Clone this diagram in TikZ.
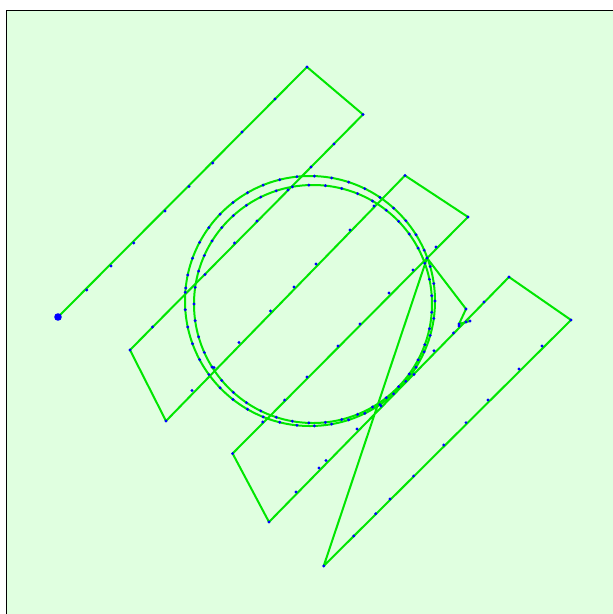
\documentclass[tikz,border=0pt]{standalone}
\usetikzlibrary{calc}
\definecolor{bgg}{RGB}{224,255,224}
\definecolor{pathg}{RGB}{0,230,0}
\definecolor{dotb}{RGB}{0,0,255}
\tikzset{
  track/.style={draw=pathg, line width=2pt, line join=round},
  wp/.style={fill=dotb},
}
\begin{document}
\begin{tikzpicture}[x=1pt,y=-1pt]
\useasboundingbox (0,0) rectangle (613,614);
\fill[white] (0,0) rectangle (613,614);
\filldraw[fill=bgg, draw=black, line width=0.8pt] (6.5,10.5) rectangle (620,620);
% lawnmower legs
\draw[track] (58,317) -- (307,67) -- (363,114.5) -- (130,350) -- (166,421) -- (405,175.5) -- (468,217) -- (232.6,453.5) -- (269,522) -- (509,277) -- (571,320) -- (323.7,566) -- (427,258);
% orbit loops
\draw[track] (310,301) circle[radius=125];
\draw[track] (313,304) circle[radius=119];
% final segment
\draw[track] (427,258) -- (466,309) -- (459,324) -- (470,321);
% waypoint dots
\foreach \p in {(86.8,290),(111,266),(133.7,243),(165,211),(189,186.5),(212.7,163),(242,132),(275,99),(307,67),
  (363,114.5),(334,144),(311,167),(288,190),(257,221),(234.5,243),(205,274.5),(185.7,288),(152.5,327),(130,350),
  (166,421),(192,390.5),(214,367.5),(239,342.5),(270.5,311),(294,287),(316,264),(350,230),(374,206),(405,175.5),
  (468,217),(436,247),(413,270),(389,293),(360,324),(338,346),(307,377),(284.6,400),(262.7,422),(232.6,453.5),
  (269,522),(296,492),(319,468),(326,460.5),(357,429),(381,406),(414,374.5),(434,350.7),(453.5,333),(459,326),(484,302),(509,277),
  (571,320),(542,346),(519,369),(488,400),(466,422.6),(443.7,445),(413.6,476),(390,499),(375.7,513.7),(353.8,536),(323.7,566),
  (427,258),(466,309),(459,324),(466,322),(470,321)}
  \fill[wp] \p circle[radius=1.6];
\foreach \a in {0,8,...,352}
  \fill[wp] ($(310,301)+(\a:125)$) circle[radius=1.6];
\foreach \a in {4,12,...,356}
  \fill[wp] ($(313,304)+(\a:119)$) circle[radius=1.6];
\fill[wp] (58,317) circle[radius=3.8];
\end{tikzpicture}
\end{document}
